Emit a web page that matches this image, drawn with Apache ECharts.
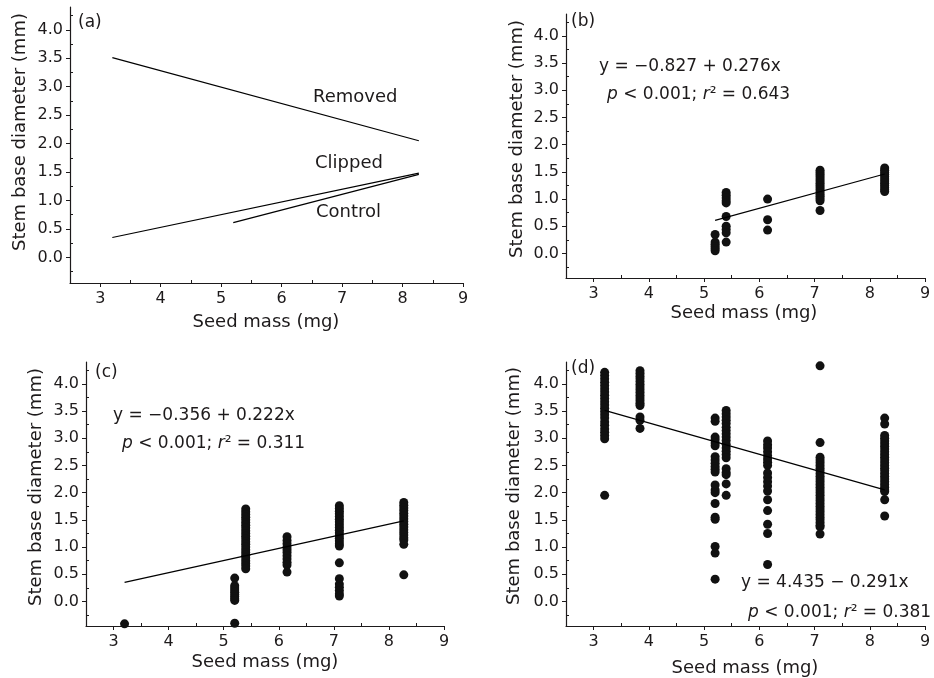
<!DOCTYPE html>
<html>
<head>
<meta charset="utf-8">
<script src="https://cdn.jsdelivr.net/npm/echarts@6/dist/echarts.min.js"></script>
<style>html,body{margin:0;padding:0;background:#fff;}#chart{width:934px;height:678px;}</style>
</head>
<body>
<div id="chart"></div>
<script>
// ---------- DATA ----------
// Seed mass columns (mg)
const colX = [3.2, 3.84, 5.2, 5.4, 6.15, 7.1, 8.27];

// Axis tick values
const xTickLabels = [3, 4, 5, 6, 7, 8, 9];
const xMinorTicks = [2.5, 3.5, 4.5, 5.5, 6.5, 7.5, 8.5];
const yTickLabels = [0, 0.5, 1, 1.5, 2, 2.5, 3, 3.5, 4];
const yMinorTicks = [-0.25, 0.25, 0.75, 1.25, 1.75, 2.25, 2.75, 3.25, 3.75, 4.25];

// Fitted lines (endpoints)
const ctrlFit = [[5.2, 0.61], [8.27, 1.46]];
const clipFit = [[3.2, 0.35], [8.27, 1.48]];
const remFit  = [[3.2, 3.51], [8.27, 2.05]];

// Panel (b) Control: stem base diameter at each seed mass
const ctrlAt52  = [0.35, 0.21, 0.17, 0.13, 0.09, 0.05];
const ctrlAt54  = [1.12, 1.07, 1.02, 0.97, 0.93, 0.68, 0.5, 0.44, 0.38, 0.21];
const ctrlAt615 = [1.0, 0.62, 0.43];
const ctrlAt71  = [1.53, 1.49, 1.45, 1.41, 1.37, 1.33, 1.29, 1.25, 1.21, 1.17, 1.13, 1.09, 1.05, 1.01, 0.97, 0.79];
const ctrlAt827 = [1.57, 1.53, 1.49, 1.45, 1.41, 1.37, 1.33, 1.29, 1.25, 1.21, 1.17, 1.14];

// Panel (c) Clipped
const clipAt32  = [-0.41];
const clipAt52  = [0.43, 0.29, 0.25, 0.21, 0.17, 0.13, 0.09, 0.05, 0.02, -0.4];
const clipAt54  = [1.7, 1.65, 1.6, 1.55, 1.5, 1.45, 1.4, 1.35, 1.3, 1.25, 1.2, 1.15, 1.1, 1.05, 1.0, 0.95, 0.9, 0.85, 0.8, 0.75, 0.7, 0.65, 0.6];
const clipAt615 = [1.19, 1.12, 1.06, 1.0, 0.95, 0.9, 0.84, 0.78, 0.72, 0.67, 0.54];
const clipAt71  = [1.76, 1.71, 1.66, 1.61, 1.56, 1.51, 1.46, 1.41, 1.36, 1.31, 1.26, 1.21, 1.16, 1.11, 1.06, 1.02, 0.71, 0.42, 0.32, 0.26, 0.2, 0.14, 0.1];
const clipAt827 = [1.82, 1.77, 1.72, 1.67, 1.62, 1.57, 1.52, 1.47, 1.42, 1.37, 1.32, 1.27, 1.22, 1.17, 1.13, 1.05, 0.49];

// Panel (d) Removed
const remAt32  = [4.21, 4.15, 4.09, 4.03, 3.97, 3.91, 3.85, 3.79, 3.73, 3.67, 3.61, 3.55, 3.49, 3.43, 3.37, 3.3, 3.24, 3.17, 3.11, 3.05, 2.99, 1.95];
const remAt384 = [4.24, 4.19, 4.14, 4.09, 4.04, 3.99, 3.94, 3.89, 3.84, 3.79, 3.74, 3.69, 3.64, 3.6, 3.39, 3.33, 3.18];
const remAt52  = [3.37, 3.31, 3.02, 2.97, 2.91, 2.86, 2.66, 2.6, 2.54, 2.48, 2.43, 2.38, 2.14, 2.05, 2.0, 1.8, 1.55, 1.51, 1.01, 0.89, 0.41];
const remAt54  = [3.51, 3.45, 3.39, 3.33, 3.27, 3.2, 3.14, 3.08, 3.02, 2.96, 2.89, 2.82, 2.76, 2.7, 2.64, 2.44, 2.37, 2.33, 2.16, 1.95];
const remAt615 = [2.95, 2.88, 2.82, 2.75, 2.68, 2.62, 2.56, 2.5, 2.36, 2.28, 2.2, 2.12, 2.03, 1.87, 1.67, 1.42, 1.25, 0.68];
const remAt71  = [4.33, 2.92, 2.65, 2.6, 2.55, 2.5, 2.45, 2.4, 2.35, 2.3, 2.25, 2.2, 2.15, 2.1, 2.05, 2.0, 1.95, 1.9, 1.85, 1.8, 1.75, 1.7, 1.65, 1.6, 1.55, 1.5, 1.45, 1.4, 1.37, 1.24];
const remAt827 = [3.37, 3.26, 3.05, 3.0, 2.95, 2.9, 2.85, 2.8, 2.75, 2.7, 2.65, 2.6, 2.55, 2.5, 2.45, 2.4, 2.35, 2.3, 2.25, 2.2, 2.15, 2.1, 2.05, 2.02, 1.87, 1.57];

// Text
const xTitle = 'Seed mass (mg)';
const yTitle = 'Stem base diameter (mm)';
const lineNames = ['Removed', 'Clipped', 'Control'];
const panelTags = ['(a)', '(b)', '(c)', '(d)'];

// ---------- BUILD ----------
const FONT = 'DejaVu Sans';
const INK = '#1d1a1b';
function pts(x, ys) { return ys.map(function (y) { return [x, y]; }); }

const ctrlPts = [].concat(pts(colX[2], ctrlAt52), pts(colX[3], ctrlAt54), pts(colX[4], ctrlAt615), pts(colX[5], ctrlAt71), pts(colX[6], ctrlAt827));
const clipPts = [].concat(pts(colX[0], clipAt32), pts(colX[2], clipAt52), pts(colX[3], clipAt54), pts(colX[4], clipAt615), pts(colX[5], clipAt71), pts(colX[6], clipAt827));
const remPts = [].concat(pts(colX[0], remAt32), pts(colX[1], remAt384), pts(colX[2], remAt52), pts(colX[3], remAt54), pts(colX[4], remAt615), pts(colX[5], remAt71), pts(colX[6], remAt827));

const grids = [
  {left: 70, top: 7, width: 393, height: 276},
  {left: 566, top: 14, width: 359, height: 264},
  {left: 86, top: 362, width: 358, height: 264},
  {left: 566, top: 362, width: 359, height: 264}
];

const xAxes = [], yAxes = [];
grids.forEach(function (g, i) {
  xAxes.push({
    gridIndex: i, type: 'value', min: 2.5, max: 9, position: 'bottom',
    axisLine: {onZero: false, lineStyle: {color: INK, width: 1.2}},
    axisTick: {customValues: xTickLabels, length: 4, inside: false, lineStyle: {color: INK}},
    axisLabel: {customValues: xTickLabels, fontSize: 16, fontFamily: FONT, color: INK, margin: 8},
    splitLine: {show: false}
  });
  xAxes.push({
    gridIndex: i, type: 'value', min: 2.5, max: 9, position: 'bottom',
    axisLine: {show: false, onZero: false},
    axisTick: {customValues: xMinorTicks, length: 3, inside: true, lineStyle: {color: INK}},
    axisLabel: {show: false},
    splitLine: {show: false}
  });
  yAxes.push({
    gridIndex: i, type: 'value', min: -0.45, max: 4.4, position: 'left',
    axisLine: {show: true, onZero: false, lineStyle: {color: INK, width: 1.2}},
    axisTick: {show: true, customValues: yTickLabels, length: 4, inside: false, lineStyle: {color: INK}},
    axisLabel: {customValues: yTickLabels, fontSize: 16, fontFamily: FONT, color: INK, margin: 7,
      formatter: function (v) { return Number(v).toFixed(1); }},
    splitLine: {show: false}
  });
  yAxes.push({
    gridIndex: i, type: 'value', min: -0.45, max: 4.4, position: 'left',
    axisLine: {show: false, onZero: false},
    axisTick: {show: true, customValues: yMinorTicks, length: 3, inside: true, lineStyle: {color: INK}},
    axisLabel: {show: false},
    splitLine: {show: false}
  });
});

function fitLine(data, gi) {
  return {type: 'line', data: data, xAxisIndex: gi * 2, yAxisIndex: gi * 2, symbol: 'none', showSymbol: false,
    lineStyle: {color: '#000', width: 1.2}, silent: true, animation: false, z: 3};
}
function dots(data, gi) {
  return {type: 'scatter', data: data, xAxisIndex: gi * 2, yAxisIndex: gi * 2, symbol: 'circle', symbolSize: 9,
    itemStyle: {color: '#111', opacity: 1}, clip: false, silent: true, animation: false, z: 2};
}

const series = [
  fitLine(remFit, 0), fitLine(clipFit, 0), fitLine(ctrlFit, 0),
  dots(ctrlPts, 1), fitLine(ctrlFit, 1),
  dots(clipPts, 2), fitLine(clipFit, 2),
  dots(remPts, 3), fitLine(remFit, 3)
];

function txt(x, y, text, size, align, rot) {
  return {type: 'text', x: x, y: y, rotation: rot || 0, silent: true,
    style: {text: text, fontSize: size, fontFamily: FONT, fill: INK, align: align || 'left', verticalAlign: 'middle'}};
}
function richTxt(x, y, text) {
  return {type: 'text', x: x, y: y, silent: true,
    style: {text: text, fontSize: 17, fontFamily: FONT, fill: INK, align: 'left', verticalAlign: 'middle',
      rich: {
        n: {fontSize: 17, fontFamily: FONT, fill: INK},
        i: {fontSize: 17, fontFamily: FONT, fontStyle: 'italic', fill: INK}
      }}};
}

const graphic = [
  // axis titles
  txt(20, 132, yTitle, 18, 'center', Math.PI / 2), txt(266, 322, xTitle, 18, 'center'),
  txt(517, 139, yTitle, 18, 'center', Math.PI / 2), txt(744, 313, xTitle, 18, 'center'),
  txt(36, 487, yTitle, 18, 'center', Math.PI / 2), txt(265, 662, xTitle, 18, 'center'),
  txt(514, 486, yTitle, 18, 'center', Math.PI / 2), txt(745, 668, xTitle, 18, 'center'),
  // panel tags
  txt(78, 23, panelTags[0], 17), txt(571, 22, panelTags[1], 17),
  txt(95, 373, panelTags[2], 17), txt(571, 369, panelTags[3], 17),
  // line labels in (a)
  txt(313, 97, lineNames[0], 18), txt(315, 163, lineNames[1], 18), txt(316, 212, lineNames[2], 18),
  // equations
  richTxt(599, 67, '{n|y = \u22120.827 + 0.276x}'),
  richTxt(607, 95, '{i|p}{n| < 0.001; }{i|r}{n|\u00b2 = 0.643}'),
  richTxt(113, 416, '{n|y = \u22120.356 + 0.222x}'),
  richTxt(122, 444, '{i|p}{n| < 0.001; }{i|r}{n|\u00b2 = 0.311}'),
  richTxt(741, 583, '{n|y = 4.435 \u2212 0.291x}'),
  richTxt(748, 613, '{i|p}{n| < 0.001; }{i|r}{n|\u00b2 = 0.381}')
];

const chart = echarts.init(document.getElementById('chart'), null, {renderer: 'canvas'});
chart.setOption({
  animation: false,
  backgroundColor: '#fff',
  grid: grids,
  xAxis: xAxes,
  yAxis: yAxes,
  series: series,
  graphic: graphic
});
</script>
</body>
</html>
